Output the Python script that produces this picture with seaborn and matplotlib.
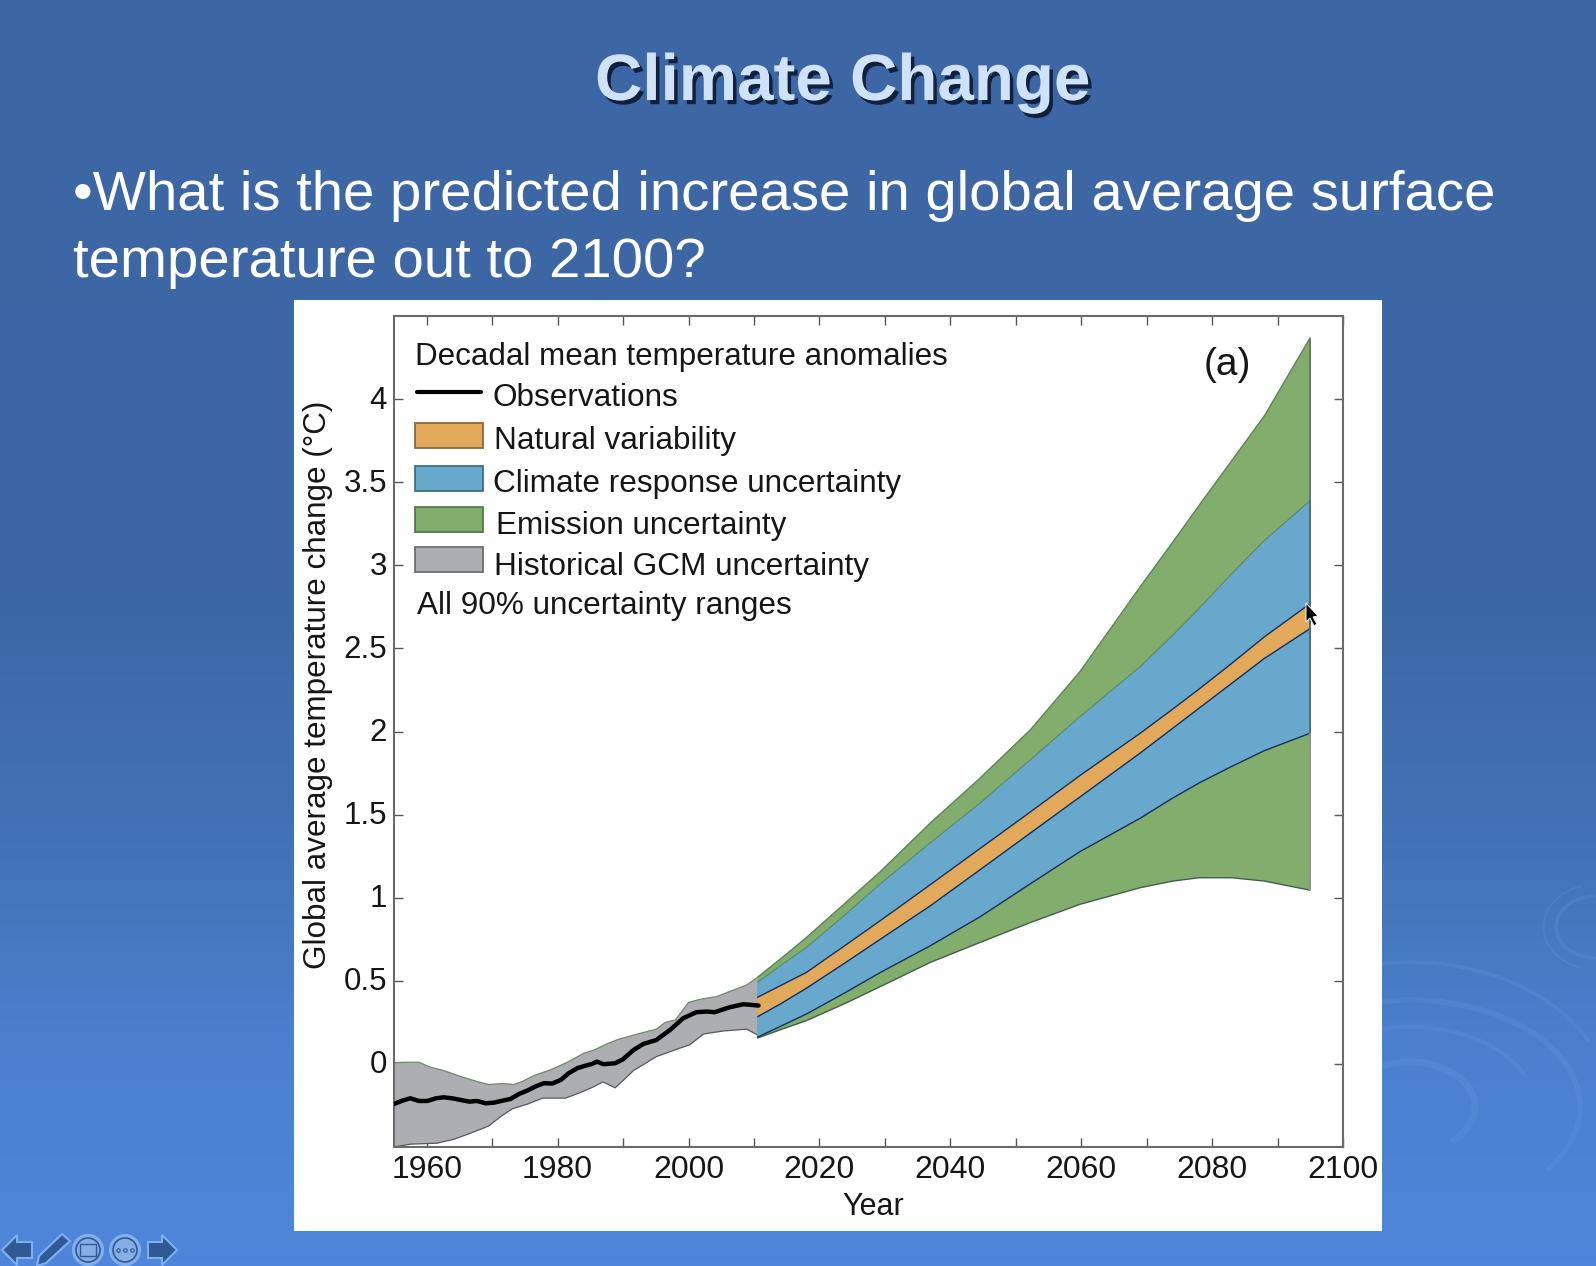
import numpy as np
import pandas as pd
import matplotlib
matplotlib.use("Agg")
import matplotlib.pyplot as plt
import matplotlib.patheffects as pe
from matplotlib.colors import LinearSegmentedColormap
from matplotlib.patches import Arc, Circle, Polygon, Rectangle
from matplotlib.transforms import ScaledTranslation
import seaborn as sns

##############################
# data
##############################

obs_years = [1955, 1956.3, 1957.5, 1958.8, 1960.1, 1961.4, 1962.6, 1963.9, 1965.2, 1966.5, 1967.7, 1969, 1970.3,
             1971.6, 1972.8, 1974.1, 1975.4, 1976.6, 1977.9, 1979.2, 1980.5, 1981.7, 1983, 1984.3, 1985.3, 1986,
             1987, 1988.8, 1990, 1991.6, 1993.1, 1995.1, 1997.2, 1999.2, 2001.2, 2002.8, 2004, 2006.3, 2008.4, 2010.7]
obs_temp = [-0.241, -0.221, -0.207, -0.223, -0.223, -0.207, -0.201, -0.207, -0.217, -0.227, -0.223, -0.237, -0.233,
            -0.221, -0.211, -0.181, -0.160, -0.136, -0.116, -0.118, -0.096, -0.056, -0.026, -0.010, 0.0, 0.014,
            -0.002, 0.004, 0.028, 0.084, 0.12, 0.144, 0.205, 0.275, 0.311, 0.315, 0.311, 0.341, 0.359, 0.351]

gcm_top_years = [1955, 1957.3, 1958.8, 1960.6, 1962.6, 1965.2, 1967.7, 1969.5, 1971.6, 1973.3, 1974.6, 1976.4,
                 1978.9, 1981.5, 1984, 1985.6, 1987.5, 1989.3, 1992.6, 1995.1, 1996.4, 1998, 2000, 2001.8,
                 2004.3, 2006.9, 2008.9, 2010.5]
gcm_top = [0.008, 0.01, 0.01, -0.02, -0.04, -0.076, -0.106, -0.124, -0.118, -0.124, -0.106, -0.07,
           -0.036, 0.01, 0.064, 0.084, 0.12, 0.148, 0.184, 0.209, 0.249, 0.265, 0.37, 0.389,
           0.405, 0.445, 0.475, 0.52]

gcm_bot_years = [1955, 1957.5, 1961.6, 1964.2, 1966.7, 1969.5, 1971.3, 1973.1, 1975.4, 1977.7, 1981.2, 1983.5,
                 1985.6, 1986.9, 1987.8, 1988.8, 1990, 1991.6, 1995.1, 1998.2, 2000.2, 2002.3, 2005.3, 2008.9, 2011]
gcm_bot = [-0.5, -0.483, -0.477, -0.453, -0.417, -0.373, -0.317, -0.27, -0.242, -0.206, -0.206, -0.172,
           -0.136, -0.108, -0.125, -0.144, -0.10, -0.04, 0.044, 0.088, 0.115, 0.18, 0.198, 0.209, 0.164]

fan_years = [2010.5, 2014, 2018, 2024, 2029.3, 2036.9, 2044.5, 2052.2, 2059.8, 2069, 2074, 2078, 2083, 2088, 2095]
green_top = [0.52, 0.63, 0.76, 0.97, 1.157, 1.448, 1.718, 2.009, 2.36, 2.87, 3.14, 3.36, 3.63, 3.90, 4.37]
blue_top = [0.49, 0.59, 0.70, 0.90, 1.083, 1.329, 1.568, 1.829, 2.089, 2.39, 2.58, 2.74, 2.95, 3.15, 3.39]
orange_top = [0.40, 0.47, 0.55, 0.715, 0.862, 1.077, 1.295, 1.515, 1.735, 1.989, 2.135, 2.255, 2.41, 2.57, 2.77]
orange_bot = [0.283, 0.36, 0.455, 0.61, 0.75, 0.95, 1.167, 1.388, 1.606, 1.87, 2.02, 2.14, 2.29, 2.44, 2.62]
blue_bot = [0.16, 0.225, 0.30, 0.43, 0.55, 0.71, 0.884, 1.083, 1.277, 1.478, 1.60, 1.69, 1.79, 1.885, 1.99]
green_bot = [0.155, 0.205, 0.26, 0.365, 0.465, 0.61, 0.73, 0.85, 0.96, 1.06, 1.10, 1.12, 1.12, 1.10, 1.045]

x_ticks = list(range(1960, 2101, 10))
x_labels = ["1960", "", "1980", "", "2000", "", "2020", "", "2040", "", "2060", "", "2080", "", "2100"]
y_ticks = [0, 0.5, 1, 1.5, 2, 2.5, 3, 3.5, 4]
y_labels = ["0", "0.5", "1", "1.5", "2", "2.5", "3", "3.5", "4"]

legend_names = ["Natural variability", "Climate response uncertainty", "Emission uncertainty", "Historical GCM uncertainty"]

ORANGE, BLUE, GREEN, GRAY = "#E3A95A", "#68A8CC", "#82AD6C", "#ADAEB2"
INK = "#161616"
W, H = 1596, 1266

sns.set_theme(style="ticks")
plt.rcParams["font.family"] = ["Liberation Sans", "DejaVu Sans"]

fig = plt.figure(figsize=(W / 100, H / 100), dpi=100)

##############################
# slide background (pixel coordinates)
##############################

bg = fig.add_axes([0, 0, 1, 1], zorder=0)
bg.set_xlim(0, W)
bg.set_ylim(H, 0)
bg.axis("off")

slide = LinearSegmentedColormap.from_list("slide", [(0, "#3C66A4"), (0.47, "#3C67A6"), (0.67, "#4273B6"),
                                                    (0.83, "#4A80CE"), (1, "#4F86DB")])
bg.imshow(np.linspace(0, 1, 400).reshape(-1, 1), cmap=slide, aspect="auto", extent=(0, W, H, 0), vmin=0, vmax=1)
bg.set_xlim(0, W)
bg.set_ylim(H, 0)

# ripples
for cx, cy, w, h, t1, t2, lw in [(1410, 1107, 340, 214, 190, 385, 4), (1410, 1107, 400, 290, 250, 340, 2.5),
                                 (1410, 1107, 250, 160, 200, 345, 3), (1410, 1107, 130, 90, 180, 400, 5),
                                 (1596, 927, 80, 62, 90, 270, 2.5), (1596, 927, 105, 85, 110, 250, 1.5)]:
    bg.add_patch(Arc((cx, cy), w, h, theta1=t1, theta2=t2, color="#6FA0E6", lw=lw, alpha=0.2))

# white panel behind the chart
bg.add_patch(Rectangle((294, 300), 1088, 931, fc="white", ec="none"))

# navigation icons
ICON, ICON_EDGE = "#2F5A94", "#7FB0EE"
bg.add_patch(Polygon([(2, 1250), (17, 1235), (17, 1242), (32, 1242), (32, 1258), (17, 1258), (17, 1265)],
                     fc=ICON, ec=ICON_EDGE, lw=1.5))
bg.add_patch(Polygon([(177, 1250), (162, 1235), (162, 1242), (148, 1242), (148, 1258), (162, 1258), (162, 1265)],
                     fc=ICON, ec=ICON_EDGE, lw=1.5))
bg.add_patch(Polygon([(62, 1234), (70, 1241), (46, 1263), (37, 1266), (39, 1256)], fc=ICON, ec=ICON_EDGE, lw=1.5))
for cx in [88, 125]:
    bg.add_patch(Circle((cx, 1250), 15, fc="#86AEE6", ec=ICON_EDGE, lw=1.5))
    bg.add_patch(Circle((cx, 1250), 12, fc="none", ec=ICON, lw=1.2))
bg.add_patch(Rectangle((80, 1244), 16, 12, fc="none", ec=ICON, lw=1))
bg.plot([118, 125, 132], [1250, 1250, 1250], "o", ms=2.5, mfc="none", mec=ICON, mew=0.8)

##############################
# chart
##############################

ax = fig.add_axes([394 / W, 1 - 1147 / H, 949 / W, 831 / H], zorder=1)
ax.patch.set_alpha(0)
ax.set_xlim(1955, 2100)
ax.set_ylim(-0.5, 4.5)


def band(x_low, low, x_high, high, color, zorder):
    ax.fill(np.r_[x_low, x_high[::-1]], np.r_[low, high[::-1]], color=color, lw=0, zorder=zorder)


def edge(x, y, color, lw=1.0, zorder=5):
    ax.plot(x, y, color=color, lw=lw, zorder=zorder, solid_capstyle="butt")


fan = np.array(fan_years)
band(np.array(gcm_bot_years), np.array(gcm_bot), np.array(gcm_top_years), np.array(gcm_top), GRAY, 1)
band(fan, np.array(green_bot), fan, np.array(green_top), GREEN, 2)
band(fan, np.array(blue_bot), fan, np.array(blue_top), BLUE, 3)
band(fan, np.array(orange_bot), fan, np.array(orange_top), ORANGE, 4)

edge(gcm_top_years, gcm_top, "#6E8A68", 0.9, 1.5)
edge(gcm_bot_years, gcm_bot, "#55585E", 0.9, 1.5)
edge(fan_years, green_top, "#5B8557", 1.0)
edge(fan_years, green_bot, "#3D6148", 1.0)
edge(fan_years, blue_top, "#5D8C6A", 0.9)
edge(fan_years, blue_bot, "#12305E", 1.0)
edge(fan_years, orange_top, "#12305E", 1.0)
edge(fan_years, orange_bot, "#12305E", 1.0)
edge([2095, 2095], [green_bot[-1], blue_bot[-1]], "#8C928C", 1.4)
edge([2095, 2095], [blue_bot[-1], blue_top[-1]], "#3F6F80", 1.4)
edge([2095, 2095], [blue_top[-1], green_top[-1]], "#5F7F60", 1.4)

obs = pd.DataFrame({"year": obs_years, "temp": obs_temp})
sns.lineplot(data=obs, x="year", y="temp", color="black", lw=3.2, ax=ax, zorder=6,
             estimator=None, sort=False, legend=False)

ax.set_xticks(x_ticks)
ax.set_xticklabels(x_labels)
ax.set_yticks(y_ticks)
ax.set_yticklabels(y_labels)
ax.set_xlabel("")
ax.set_ylabel("")
ax.tick_params(axis="x", direction="in", length=6.5, width=1, color="#555555", top=True,
               labelsize=23, labelcolor=INK, pad=6)
ax.tick_params(axis="y", direction="in", length=6.5, width=1, color="#555555", right=True,
               labelsize=22.5, labelcolor=INK, pad=5)
for lab in ax.get_yticklabels():
    lab.set_transform(lab.get_transform() + ScaledTranslation(0, 0.02, fig.dpi_scale_trans))
for side in ax.spines.values():
    side.set_visible(True)
    side.set_color("#6A6A6A")
    side.set_linewidth(1.5)

##############################
# overlay texts (pixel coordinates)
##############################

top = fig.add_axes([0, 0, 1, 1], zorder=2)
top.set_xlim(0, W)
top.set_ylim(H, 0)
top.axis("off")

top.text(595, 100, "Climate Change", fontsize=47.2, fontweight="bold", color="#CFE2F8",
         path_effects=[pe.withSimplePatchShadow(offset=(2.5, -3), shadow_rgbFace="#0E1C38", alpha=0.95)])
top.text(73, 210, "•What is the predicted increase in global average surface", fontsize=40.6, color="white")
top.text(73, 277, "temperature out to 2100?", fontsize=40.6, color="white")

top.text(318, 685, "Global average temperature change (°C)", fontsize=22.6, color=INK,
         rotation=90, ha="center", va="center")
top.text(873, 1215, "Year", fontsize=22, color=INK, ha="center", va="baseline")
top.text(1227, 375, "(a)", fontsize=28, color=INK, ha="center", va="baseline")

# legend, placed by hand as in the reference
top.text(415, 365, "Decadal mean temperature anomalies", fontsize=22.6, color=INK)
top.plot([417, 481], [392, 392], color="black", lw=3)
top.text(493, 406, "Observations", fontsize=22.7, color=INK)
patches = [(423, ORANGE, "#8A6A3A", 494, 449), (466, BLUE, "#3F6F80", 493, 492),
           (507, GREEN, "#4F7A50", 496, 534), (547, GRAY, "#6E6E72", 494, 575)]
for name, (py, fc, ec, tx, ty) in zip(legend_names, patches):
    top.add_patch(Rectangle((415, py), 68, 25, fc=fc, ec=ec, lw=1.3))
    top.text(tx, ty, name, fontsize=22.7, color=INK)
top.text(417, 614, "All 90% uncertainty ranges", fontsize=22.7, color=INK)

# mouse pointer left on the slide
top.add_patch(Polygon([(1306, 603), (1306, 622), (1310, 618), (1314, 626), (1317, 624), (1313, 617), (1318, 616)],
                      fc="black", ec="white", lw=0.7))

fig.savefig("out.png", dpi=100)
